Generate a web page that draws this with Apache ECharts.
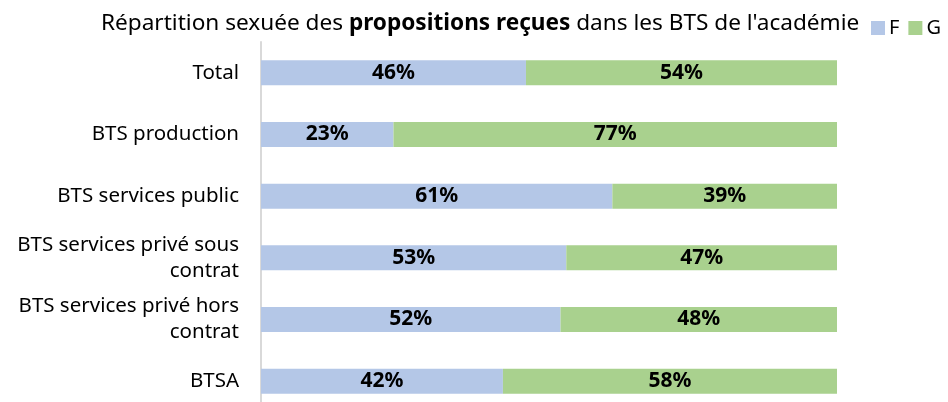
<!DOCTYPE html>
<html>
<head>
<meta charset="utf-8">
<script src="https://cdn.jsdelivr.net/npm/echarts@6/dist/echarts.min.js"></script>
<style>
html,body{margin:0;padding:0;background:#fff;overflow:hidden;}
#c{width:948px;height:420px;}
</style>
</head>
<body>
<div id="c"></div>
<script>
var categories = ["Total", "BTS production", "BTS services public", "BTS services privé sous contrat", "BTS services privé hors contrat", "BTSA"];
var valuesF = [46, 23, 61, 53, 52, 42];
var valuesG = [54, 77, 39, 47, 48, 58];
var seriesNames = ["F", "G"];

var FONT = "Noto Sans";
var chart = echarts.init(document.getElementById('c'), null, {renderer: 'canvas'});
var labelStyle = {
  show: true, position: 'inside', formatter: '{c}%',
  color: '#000', fontWeight: 'bold', fontFamily: FONT, fontSize: 21
};
chart.setOption({
  animation: false,
  textStyle: {fontFamily: FONT},
  title: {
    text: "{a|Répartition sexuée des }{b|propositions reçues}{a| dans les BTS de l'académie}",
    left: 96, top: 7,
    textStyle: {
      fontWeight: 'normal',
      rich: {
        a: {fontFamily: FONT, fontSize: 22.6, color: '#000', fontWeight: 'normal'},
        b: {fontFamily: FONT, fontSize: 22.6, color: '#000', fontWeight: 'bold'}
      }
    }
  },
  legend: {
    data: seriesNames, orient: 'horizontal',
    left: 871, top: 18, width: 120, padding: 0,
    icon: 'rect', itemWidth: 14, itemHeight: 14, itemGap: 9,
    textStyle: {fontFamily: FONT, fontSize: 20, color: '#000', padding: [0, 0, 0, -1]}
  },
  grid: {left: 261, top: 42, width: 576, height: 370, containLabel: false},
  xAxis: {
    type: 'value', min: 0, max: 100, show: false
  },
  yAxis: {
    type: 'category', data: categories, inverse: true,
    axisLine: {show: true, lineStyle: {color: '#d9d9d9', width: 2}},
    axisTick: {show: false},
    axisLabel: {
      color: '#000', fontFamily: FONT, fontSize: 20.5, margin: 22, lineHeight: 26, align: 'right',
      formatter: function (v) { return v.replace(' contrat', '\ncontrat'); }
    }
  },
  series: [
    {name: 'F', type: 'bar', stack: 't', data: valuesF, barWidth: 25,
     itemStyle: {color: '#b4c7e7'}, label: labelStyle},
    {name: 'G', type: 'bar', stack: 't', data: valuesG, barWidth: 25,
     itemStyle: {color: '#a9d18e'}, label: labelStyle}
  ]
});
</script>
</body>
</html>
